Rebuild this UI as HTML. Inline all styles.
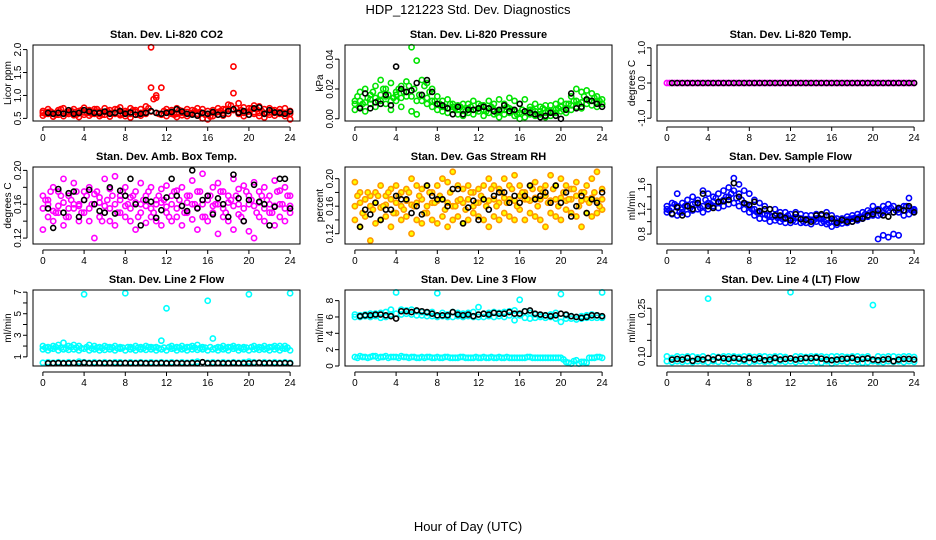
<!DOCTYPE html>
<html><head><meta charset="utf-8"><style>
body{margin:0;background:#fff;}
svg{display:block;font-family:"Liberation Sans",Arial,sans-serif;}
</style></head><body>
<svg id="chart" width="936" height="540" viewBox="0 0 936 540">
<text x="468" y="14" text-anchor="middle" font-size="13">HDP_121223  Std. Dev. Diagnostics</text>
<text x="468" y="531" text-anchor="middle" font-size="13">Hour of Day (UTC)</text>
</svg>
<script>
const xTicks=[0,4,8,12,16,20,24];
// Panel 1 CO2
const co2A=[0.66,0.7,0.62,0.68,0.72,0.64,0.7,0.66,0.73,0.68,0.7,0.65,0.72,0.68,0.7,0.74,0.66,0.72,0.68,0.7,0.76,2.05,1.0,1.17,0.7,0.68,0.72,0.66,0.7,0.68,0.72,0.7,0.66,0.68,0.72,0.7,0.8,1.63,0.83,0.74,0.72,0.78,0.76,0.7,0.72,0.68,0.7,0.72,0.66];
const co2B=[0.56,0.6,0.54,0.58,0.55,0.6,0.57,0.53,0.58,0.56,0.6,0.55,0.58,0.54,0.6,0.57,0.55,0.52,0.58,0.56,0.6,1.17,0.95,0.58,0.55,0.6,0.53,0.57,0.55,0.6,0.56,0.5,0.48,0.55,0.58,0.56,0.6,1.05,0.6,0.55,0.58,0.6,0.55,0.52,0.58,0.56,0.6,0.55,0.48];
const co2C=[0.62,0.64,0.6,0.63,0.62,0.6,0.64,0.61,0.63,0.62,0.65,0.6,0.64,0.62,0.63,0.6,0.62,0.6,0.64,0.62,0.63,0.65,0.62,0.6,0.63,0.62,0.6,0.62,0.64,0.62,0.6,0.62,0.6,0.62,0.64,0.62,0.7,0.68,0.64,0.62,0.65,0.64,0.62,0.6,0.63,0.62,0.64,0.62,0.6];
const co2D=[0.6,0.65,0.58,0.7,0.62,0.66,0.58,0.68,0.62,0.6,0.7,0.58,0.66,0.62,0.7,0.6,0.64,0.68,0.58,0.62,0.72,0.92,0.6,0.66,0.64,0.58,0.68,0.62,0.6,0.66,0.64,0.58,0.54,0.62,0.66,0.7,0.78,0.72,0.68,0.64,0.72,0.7,0.66,0.62,0.68,0.64,0.6,0.62];
const co2K=[0.62,0.6,0.62,0.6,0.68,0.6,0.62,0.68,0.65,0.62,0.62,0.65,0.6,0.62,0.66,0.6,0.63,0.58,0.6,0.62,0.66,0.62,0.6,0.62,0.64,0.7,0.65,0.6,0.58,0.56,0.62,0.6,0.64,0.58,0.58,0.66,0.7,0.62,0.66,0.58,0.72,0.74,0.6,0.68,0.63,0.62,0.6,0.65];
// Panel 2 pressure
const prA=[.012,.018,.02,.016,.022,.026,.02,.024,.018,.022,.025,.048,.039,.026,.024,.02,.015,.012,.013,.01,.009,.01,.01,.012,.01,.009,.012,.01,.013,.01,.014,.012,.01,.013,.008,.01,.008,.009,.009,.01,.012,.01,.015,.02,.018,.019,.017,.015,.013];
const prB=[.006,.008,.005,.01,.008,.012,.01,.006,.012,.008,.015,.005,.003,.012,.01,.008,.006,.005,.004,.006,.003,.002,.004,.003,.005,.002,.004,.003,.001,.003,.004,.002,0,.001,.003,.002,.003,.001,.002,.004,.005,.004,.006,.008,.007,.01,.009,.008,.01];
const prC=[.01,.012,.011,.013,.014,.016,.015,.012,.016,.014,.018,.015,.012,.016,.014,.012,.01,.008,.007,.008,.006,.006,.007,.006,.007,.006,.007,.006,.005,.006,.007,.005,.004,.005,.006,.005,.005,.004,.005,.006,.008,.007,.009,.012,.011,.013,.012,.011,.01];
const prD=[.015,.01,.014,.018,.012,.02,.016,.014,.02,.018,.022,.02,.016,.022,.018,.012,.01,.008,.01,.007,.008,.005,.008,.006,.009,.005,.008,.004,.006,.008,.006,.003,.006,.004,.006,.003,.007,.005,.004,.007,.006,.01,.012,.01,.015,.012,.014,.012];
const prK=[.007,.017,.007,.011,.01,.016,.009,.035,.02,.018,.019,.024,.016,.026,.018,.01,.009,.007,.003,.008,.003,.006,.006,.007,.008,.007,.005,.006,.009,.005,.006,.01,.005,.004,.003,.001,.002,.004,.002,0,.006,.017,.007,.008,.013,.012,.01,.008];
// Panel 3 Li-820 temp (all zero)
const tmA=[0,0,0,0,0,0,0,0,0,0,0,0,0,0,0,0,0,0,0,0,0,0,0,0,0,0,0,0,0,0,0,0,0,0,0,0,0,0,0,0,0,0,0,0,0,0,0,0,0,0,0,0,0,0,0,0,0,0,0,0,0,0,0,0,0,0,0,0,0,0,0,0,0,0,0,0,0,0,0,0,0,0,0,0,0,0,0,0,0,0,0,0,0,0,0,0,0];
const tmK=[0,0,0,0,0,0,0,0,0,0,0,0,0,0,0,0,0,0,0,0,0,0,0,0,0,0,0,0,0,0,0,0,0,0,0,0,0,0,0,0,0,0,0,0,0,0,0,0];
// Panel 4 amb box temp
const abA=[.17,.165,.18,.175,.19,.17,.185,.16,.175,.18,.172,.168,.19,.178,.193,.17,.18,.168,.175,.185,.17,.18,.165,.178,.182,.17,.176,.18,.17,.188,.175,.196,.17,.18,.185,.175,.17,.19,.178,.182,.17,.186,.175,.18,.17,.188,.176,.18,.17];
const abB=[.13,.145,.14,.15,.135,.145,.155,.14,.15,.14,.12,.145,.15,.14,.135,.15,.145,.14,.13,.15,.138,.145,.14,.135,.15,.14,.145,.135,.15,.142,.13,.145,.14,.15,.125,.145,.14,.13,.148,.14,.128,.12,.145,.14,.15,.135,.145,.14,.15];
const abC=[.155,.16,.152,.158,.162,.155,.16,.158,.165,.155,.16,.162,.158,.155,.16,.165,.158,.155,.162,.16,.158,.155,.16,.162,.157,.16,.155,.158,.162,.16,.156,.16,.165,.158,.16,.155,.162,.158,.16,.155,.16,.158,.162,.155,.16,.158,.16,.155,.158];
const abD=[.165,.175,.15,.17,.145,.165,.175,.15,.17,.16,.175,.14,.165,.17,.15,.175,.16,.17,.145,.165,.175,.15,.17,.165,.145,.175,.165,.15,.17,.16,.175,.145,.17,.16,.175,.15,.165,.17,.145,.175,.165,.15,.17,.165,.15,.175,.16,.17];
const abK=[.155,.132,.178,.15,.173,.175,.145,.165,.177,.16,.152,.15,.18,.149,.176,.17,.19,.16,.135,.165,.163,.144,.153,.168,.19,.17,.158,.152,.2,.155,.165,.17,.148,.167,.16,.145,.195,.167,.14,.165,.183,.163,.16,.135,.157,.19,.19,.155];
// Panel 5 gas stream RH
const rhA=[.195,.18,.17,.175,.18,.19,.175,.185,.19,.18,.185,.2,.19,.185,.19,.18,.19,.2,.195,.21,.19,.185,.19,.18,.185,.19,.2,.19,.185,.2,.19,.205,.19,.18,.19,.195,.185,.19,.205,.19,.2,.19,.185,.195,.18,.19,.2,.21,.185];
const rhB=[.14,.13,.145,.11,.135,.14,.145,.13,.15,.14,.145,.12,.14,.135,.15,.14,.135,.145,.13,.14,.145,.135,.14,.15,.145,.14,.13,.145,.14,.15,.145,.14,.155,.14,.15,.145,.14,.13,.15,.145,.14,.155,.15,.145,.13,.15,.145,.15,.155];
const rhC=[.16,.165,.17,.16,.165,.158,.162,.17,.165,.16,.168,.162,.165,.17,.16,.165,.168,.17,.165,.16,.168,.165,.17,.16,.165,.17,.168,.17,.165,.172,.17,.168,.175,.17,.168,.172,.17,.175,.168,.17,.172,.168,.17,.175,.168,.17,.172,.168,.17];
const rhD=[.175,.15,.18,.155,.175,.16,.18,.15,.175,.155,.18,.16,.175,.15,.18,.165,.175,.155,.18,.16,.17,.155,.18,.165,.175,.16,.185,.16,.18,.165,.185,.16,.18,.17,.185,.16,.18,.165,.185,.16,.18,.17,.185,.16,.18,.165,.18,.16];
const rhK=[.13,.155,.148,.165,.14,.155,.155,.175,.17,.17,.15,.16,.148,.19,.175,.17,.17,.16,.185,.185,.135,.158,.168,.14,.17,.155,.175,.18,.18,.165,.175,.165,.175,.19,.17,.175,.18,.165,.19,.165,.18,.145,.16,.175,.15,.17,.165,.18];
// Panel 6 sample flow
const sfA=[1.25,1.3,1.45,1.3,1.35,1.4,1.35,1.5,1.45,1.4,1.45,1.5,1.55,1.7,1.6,1.5,1.45,1.35,1.3,1.25,1.2,1.2,1.15,1.15,1.12,1.15,1.12,1.1,1.1,1.12,1.1,1.15,1.1,1.05,1.05,1.08,1.1,1.12,1.15,1.18,1.25,1.2,1.25,1.28,1.25,1.2,1.25,1.38,1.2];
const sfB=[1.15,1.12,1.1,1.15,1.12,1.18,1.2,1.15,1.2,1.25,1.22,1.25,1.28,1.3,1.25,1.2,1.15,1.1,1.05,1.05,1.0,1.02,1.0,0.98,0.98,1.0,0.98,0.98,0.96,1.0,0.98,0.96,0.92,0.95,0.97,0.98,1.0,1.02,1.05,1.08,1.1,0.72,0.78,0.75,0.8,0.78,1.1,1.12,1.15];
const sfC=[1.2,1.22,1.25,1.2,1.25,1.28,1.3,1.25,1.3,1.32,1.3,1.35,1.4,1.5,1.45,1.3,1.25,1.2,1.15,1.12,1.1,1.1,1.08,1.05,1.05,1.06,1.05,1.04,1.03,1.05,1.04,1.03,1.0,1.0,1.02,1.03,1.05,1.06,1.08,1.1,1.15,1.1,1.15,1.18,1.15,1.15,1.18,1.22,1.18];
const sfD=[1.18,1.28,1.15,1.25,1.22,1.3,1.22,1.35,1.28,1.38,1.32,1.4,1.45,1.38,1.35,1.28,1.2,1.15,1.12,1.1,1.08,1.06,1.04,1.1,1.02,1.06,1.0,1.04,1.02,1.06,1.0,0.98,1.04,1.0,1.02,1.04,1.06,1.08,1.12,1.15,1.18,1.12,1.2,1.22,1.18,1.2,1.25,1.18];
const sfK=[1.13,1.23,1.1,1.25,1.2,1.3,1.45,1.25,1.22,1.32,1.33,1.35,1.62,1.4,1.3,1.27,1.32,1.17,1.2,1.2,1.1,1.1,1.06,1.02,1.12,1.04,1.03,1.0,1.1,1.12,1.1,1.05,0.98,1.03,1.0,1.0,1.04,1.05,1.1,1.12,1.18,1.1,1.08,1.15,1.22,1.18,1.25,1.15];
// Panel 7 line 2 flow
const l2A=[2.0,1.9,2.0,2.1,2.3,2.0,2.1,2.0,6.8,2.1,2.0,1.9,2.0,1.9,2.0,1.9,6.9,1.9,2.0,1.9,2.0,1.9,1.9,2.5,5.5,2.0,1.9,2.0,1.9,2.0,2.1,1.9,6.2,2.7,1.9,2.0,1.9,2.0,1.9,1.9,6.8,2.0,1.9,2.0,1.9,2.0,2.0,2.0,6.9];
const l2B=[1.7,1.6,1.75,1.6,1.7,1.65,1.7,1.6,1.75,1.6,1.7,1.6,1.65,1.7,1.6,1.75,1.6,1.7,1.6,1.7,1.65,1.7,1.6,1.7,1.6,1.75,1.6,1.7,1.6,1.7,1.65,1.7,1.6,1.7,1.6,1.7,1.6,1.75,1.6,1.7,1.6,1.7,1.65,1.7,1.6,1.7,1.6,1.75,1.6];
const l2C=[0.45,0.5,0.45,0.5,0.45,0.5,0.45,0.55,0.5,0.45,0.5,0.45,0.5,0.45,0.5,0.5,0.45,0.5,0.45,0.5,0.45,0.5,0.45,0.5,0.45,0.5,0.45,0.5,0.45,0.5,0.55,0.5,0.45,0.5,0.45,0.5,0.45,0.5,0.45,0.5,0.55,0.5,0.45,0.5,0.45,0.5,0.45,0.5,0.45];
const l2D=[1.85,1.8,1.9,1.85,1.8,1.9,1.85,1.8,1.9,1.8,1.85,1.8,1.9,1.85,1.8,1.85,1.9,1.8,1.85,1.8,1.9,1.85,1.8,1.85,1.9,1.8,1.85,1.8,1.9,1.85,1.8,1.85,1.9,1.8,1.85,1.8,1.9,1.85,1.8,1.85,1.9,1.8,1.85,1.8,1.9,1.85,1.8,1.85];
const l2K=[0.4,0.4,0.42,0.4,0.4,0.42,0.4,0.45,0.4,0.4,0.42,0.4,0.42,0.4,0.4,0.42,0.4,0.4,0.42,0.4,0.4,0.4,0.42,0.4,0.4,0.42,0.4,0.4,0.42,0.4,0.5,0.4,0.4,0.42,0.4,0.4,0.42,0.4,0.4,0.4,0.42,0.45,0.4,0.42,0.4,0.4,0.42,0.4];
// Panel 8 line 3 flow
const l3A=[6.3,6.2,6.3,6.4,6.4,6.5,6.6,6.9,9.0,6.9,6.8,6.9,6.7,6.6,6.5,6.6,8.9,6.5,6.3,6.6,6.5,6.4,6.5,6.6,7.2,6.4,6.5,6.6,6.5,6.6,6.7,6.8,8.1,6.7,6.5,6.3,6.2,6.2,6.3,6.5,8.8,6.2,6.1,6.0,6.1,6.2,6.3,6.2,9.0];
const l3B=[6.0,6.0,6.1,6.0,6.1,5.9,6.0,6.3,6.4,6.3,6.4,6.3,6.2,6.2,6.1,6.1,6.0,6.1,6.0,6.0,6.1,6.0,6.1,6.0,6.0,6.0,6.1,6.0,6.1,6.0,6.2,5.6,6.2,5.9,5.8,5.9,6.0,5.9,6.0,5.8,5.4,5.8,5.8,5.7,5.8,5.9,5.9,5.9,5.9];
const l3C=[1.1,1.2,1.1,1.1,1.2,1.1,1.2,1.1,1.1,1.2,1.1,1.1,1.0,1.1,1.1,1.0,1.1,1.0,1.1,1.0,1.0,1.1,1.0,1.0,1.0,1.1,1.0,1.0,1.1,1.0,1.0,1.0,1.0,1.0,1.1,1.0,1.0,1.0,1.0,1.0,1.0,0.5,0.3,0.7,0.5,0.4,1.0,1.1,1.0];
const l3D=[1.0,1.1,1.0,1.2,1.0,1.1,1.0,1.1,1.0,1.1,1.0,1.1,1.0,1.0,1.1,1.0,1.0,1.1,1.0,1.0,1.1,1.0,1.0,1.1,1.0,1.0,1.1,1.0,1.0,1.1,1.0,1.0,1.0,1.1,1.0,1.0,1.0,1.0,1.0,1.0,0.8,0.4,0.6,0.3,0.5,1.0,1.0,1.1];
const l3K=[6.1,6.2,6.2,6.3,6.3,6.2,6.1,5.8,6.7,6.7,6.6,6.8,6.7,6.6,6.4,6.2,6.2,6.2,6.6,6.3,6.2,6.3,6.1,6.3,6.4,6.3,6.5,6.4,6.4,6.6,6.4,6.4,6.7,6.8,6.4,6.3,6.2,6.1,6.2,6.4,6.3,6.1,6.0,5.9,6.0,6.2,6.2,6.1];
// Panel 9 line 4 flow
const l4A=[0.1,0.095,0.1,0.098,0.1,0.1,0.097,0.1,0.28,0.1,0.098,0.1,0.1,0.1,0.098,0.1,0.1,0.098,0.1,0.1,0.098,0.1,0.1,0.098,0.3,0.1,0.1,0.098,0.1,0.1,0.1,0.098,0.1,0.1,0.1,0.098,0.1,0.1,0.098,0.1,0.26,0.1,0.098,0.1,0.1,0.098,0.1,0.1,0.098];
const l4B=[0.085,0.082,0.085,0.083,0.085,0.082,0.085,0.084,0.082,0.085,0.083,0.085,0.082,0.085,0.083,0.085,0.082,0.084,0.085,0.083,0.085,0.082,0.085,0.083,0.085,0.082,0.085,0.083,0.085,0.082,0.08,0.085,0.078,0.083,0.085,0.082,0.085,0.083,0.08,0.082,0.085,0.083,0.082,0.085,0.083,0.085,0.082,0.085,0.083];
const l4K=[0.09,0.092,0.09,0.095,0.086,0.092,0.09,0.095,0.09,0.096,0.094,0.092,0.095,0.093,0.09,0.095,0.09,0.094,0.088,0.09,0.095,0.09,0.092,0.094,0.09,0.093,0.095,0.094,0.096,0.093,0.09,0.088,0.09,0.092,0.093,0.095,0.09,0.092,0.094,0.09,0.088,0.09,0.092,0.085,0.09,0.092,0.092,0.09];

const NS='http://www.w3.org/2000/svg';
const svg=document.getElementById('chart');
function mk(tag,attrs,parent){const e=document.createElementNS(NS,tag);for(const k in attrs)e.setAttribute(k,attrs[k]);(parent||svg).appendChild(e);return e;}

const cols=[[33,300],[345,612],[657,924]];
const rows=[[45,121],[167,244],[290,366]];
const panels=[
 {r:0,c:0,title:'Stan. Dev. Li-820 CO2',ylab:'Licor ppm',ymin:0.443,ymax:2.1,ticks:[0.5,1.0,1.5,2.0],labs:['0.5','1.0','1.5','2.0'],series:[co2A,co2B,co2C],mid:[co2D],col:'#ff0000',k:co2K},
 {r:0,c:1,title:'Stan. Dev. Li-820 Pressure',ylab:'kPa',ymin:-0.0015,ymax:0.0495,ticks:[0,0.02,0.04],labs:['0.00','0.02','0.04'],series:[prA,prB,prC],mid:[prD],col:'#00e400',k:prK},
 {r:0,c:2,title:'Stan. Dev. Li-820 Temp.',ylab:'degrees C',ymin:-1.08,ymax:1.08,ticks:[-1,-0.5,0,0.5,1],labs:['-1.0','','0.0','','1.0'],series:[tmA],mid:[],col:'#ff00ff',k:tmK},
 {r:1,c:0,title:'Stan. Dev. Amb. Box Temp.',ylab:'degrees C',ymin:0.113,ymax:0.204,ticks:[0.12,0.14,0.16,0.18,0.20],labs:['0.12','','0.16','','0.20'],series:[abA,abB,abC],mid:[abD],col:'#ff00ff',k:abK},
 {r:1,c:1,title:'Stan. Dev. Gas Stream RH',ylab:'percent',ymin:0.105,ymax:0.217,ticks:[0.12,0.14,0.16,0.18,0.20],labs:['0.12','','0.16','','0.20'],series:[rhA,rhB,rhC],mid:[rhD],col:'#ff9a00',fill:'#ffff00',k:rhK},
 {r:1,c:2,title:'Stan. Dev. Sample Flow',ylab:'ml/min',ymin:0.64,ymax:1.88,ticks:[0.8,1.0,1.2,1.4,1.6],labs:['0.8','','1.2','','1.6'],series:[sfA,sfB,sfC],mid:[sfD],col:'#0000ff',k:sfK},
 {r:2,c:0,title:'Stan. Dev. Line 2 Flow',ylab:'ml/min',ymin:0.15,ymax:7.2,ticks:[1,2,3,4,5,6,7],labs:['1','','3','','5','','7'],series:[l2A,l2B,l2C],mid:[l2D],col:'#00ffff',k:l2K},
 {r:2,c:1,title:'Stan. Dev. Line 3 Flow',ylab:'ml/min',ymin:0,ymax:9.3,ticks:[0,2,4,6,8],labs:['0','2','4','6','8'],series:[l3A,l3B,l3C],mid:[l3D],col:'#00ffff',k:l3K},
 {r:2,c:2,title:'Stan. Dev. Line 4 (LT) Flow',ylab:'ml/min',ymin:0.07,ymax:0.307,ticks:[0.10,0.15,0.20,0.25],labs:['0.10','','','0.25'],series:[l4A,l4B],mid:[],col:'#00ffff',k:l4K}
];

panels.forEach((p,pi)=>{
 const [x0,x1]=cols[p.c],[y0,y1]=rows[p.r];
 const g=mk('g',{});
 
 
 const ext=(x1-x0)/1.08*0.04;
 const sx=v=>x0+ext+v/24*((x1-x0)-2*ext);
 const sy=v=>y1-(v-p.ymin)/(p.ymax-p.ymin)*(y1-y0);
 const t=mk('text',{x:(x0+x1)/2,y:y0-7,'text-anchor':'middle','font-size':11,'font-weight':'bold'},g);
 t.textContent=p.title;
 
 
 const yl=mk('text',{x:0,y:0,'text-anchor':'middle','font-size':10,transform:`translate(${x0-22},${(y0+y1)/2}) rotate(-90)`},g);
 yl.textContent=p.ylab;
 
 
 const dot=(x,v)=>{
  const c=mk('circle',{cx:x,cy:sy(v),r:2.6,fill:p.fill||'none',stroke:p.col,'stroke-width':1.6},g);
  
  
 };
 p.series.forEach(arr=>{const n=arr.length;arr.forEach((v,i)=>dot(sx(i*24/(n-1)),v));});
 p.mid.forEach(arr=>{const n=arr.length;arr.forEach((v,i)=>dot(sx((i+0.5)*24/n),v));});
 p.k.forEach((v,i)=>{
  const c=mk('circle',{cx:sx((i+1)*24/p.k.length),cy:sy(v),r:2.5,fill:'none',stroke:'#000','stroke-width':1.6},g);
  
  
 });
 const b=mk('rect',{x:x0,y:y0,width:x1-x0,height:y1-y0,fill:'none',stroke:'#000','stroke-width':1},g);
 
 
 mk('line',{x1:sx(0),x2:sx(24),y1:y1+6,y2:y1+6,stroke:'#000'},g);
 xTicks.forEach(v=>{
  mk('line',{x1:sx(v),x2:sx(v),y1:y1+6,y2:y1+10,stroke:'#000'},g);
  const tl=mk('text',{x:sx(v),y:y1+20,'text-anchor':'middle','font-size':10},g);
  tl.textContent=v;
  
  
 });
 mk('line',{x1:x0-6,x2:x0-6,y1:sy(p.ticks[0]),y2:sy(p.ticks[p.ticks.length-1]),stroke:'#000'},g);
 p.ticks.forEach((v,i)=>{
  mk('line',{x1:x0-10,x2:x0-6,y1:sy(v),y2:sy(v),stroke:'#000'},g);
  if(p.labs[i]){
   const tl=mk('text',{x:0,y:0,'text-anchor':'middle','font-size':10,transform:`translate(${x0-12},${sy(v)}) rotate(-90)`},g);
   tl.textContent=p.labs[i];
   
   
  }
 });
});
</script>
</body></html>
